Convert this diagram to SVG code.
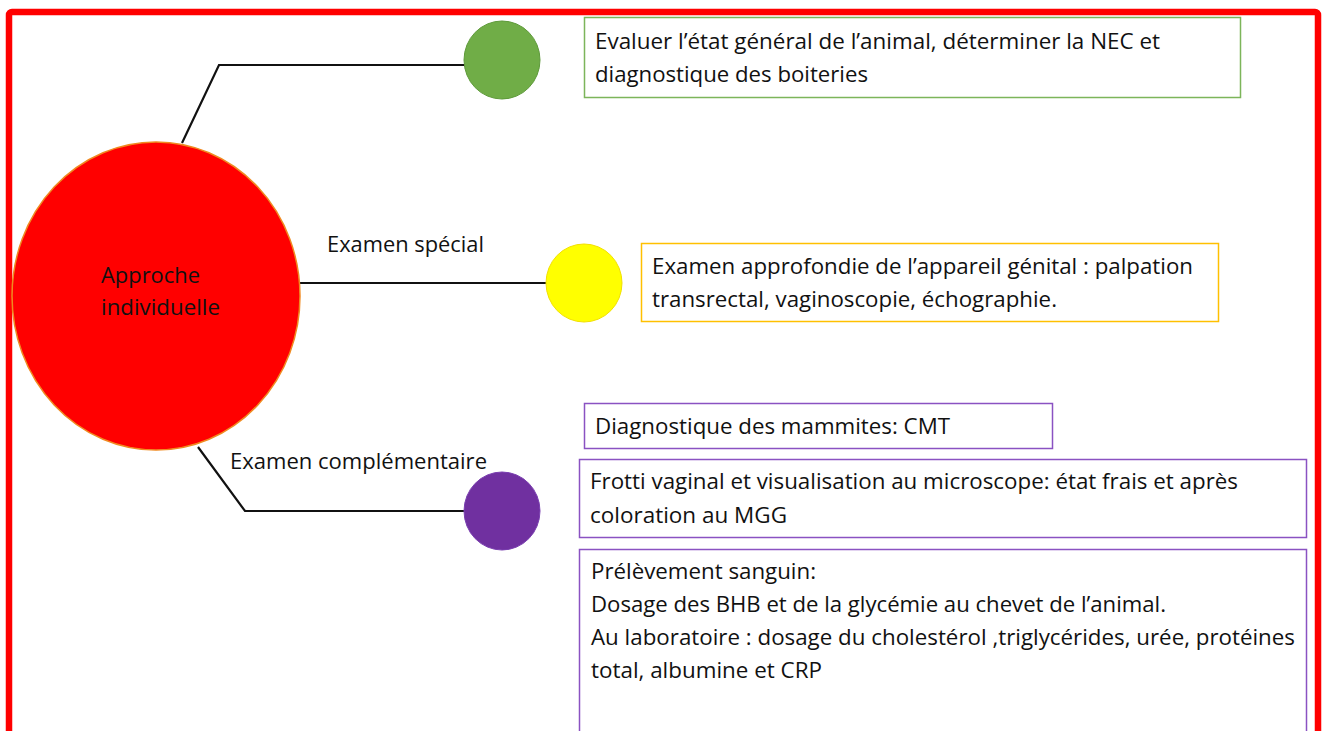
<svg xmlns="http://www.w3.org/2000/svg" width="1323" height="731" viewBox="0 0 1323 731">
<style>
text{font-family:"Open Sans","Liberation Sans",sans-serif;font-size:22px;fill:#111}
.conn{fill:none;stroke:#111;stroke-width:2.2}
.box{fill:#fff;stroke-width:1.5}
.g{stroke:#7cb55a}
.y{stroke:#ffc000}
.p{stroke:#8a52c2}
</style>
<rect width="1323" height="731" fill="#fff"/>
<rect x="9" y="12" width="1309" height="740" rx="3" fill="none" stroke="#ff0000" stroke-width="6.5"/>
<g id="connectors">
<polyline class="conn" points="182,143 219,65 466,65"/>
<line class="conn" x1="299" y1="283" x2="548" y2="283"/>
<polyline class="conn" points="198,447 245,511 466,511"/>
</g>
<g id="label-special"><text x="327" y="252" textLength="157" lengthAdjust="spacingAndGlyphs">Examen spécial</text></g>
<g id="label-complementaire"><text x="230" y="469" textLength="257" lengthAdjust="spacingAndGlyphs">Examen complémentaire</text></g>
<g id="approche">
<ellipse cx="156" cy="296" rx="144" ry="154" fill="#ff0000" stroke="#f08a20" stroke-width="1.5"/>
<text x="101" y="283" textLength="99" lengthAdjust="spacingAndGlyphs">Approche</text>
<text x="101" y="315" textLength="119" lengthAdjust="spacingAndGlyphs">individuelle</text>
</g>
<g id="green-node"><ellipse cx="502" cy="60" rx="38" ry="39" fill="#70ad47" stroke="#5e9a3a" stroke-width="1"/></g>
<g id="yellow-node"><ellipse cx="584" cy="283" rx="38" ry="39" fill="#ffff00" stroke="#f2e000" stroke-width="1"/></g>
<g id="purple-node"><ellipse cx="502" cy="511" rx="38" ry="39" fill="#7030a0" stroke="#7a3fb0" stroke-width="1"/></g>
<g id="box-general">
<rect class="box g" x="584.5" y="17.5" width="656" height="80"/>
<text x="595" y="49" textLength="565" lengthAdjust="spacingAndGlyphs">Evaluer l’état général de l’animal, déterminer la NEC et</text>
<text x="595" y="82" textLength="273" lengthAdjust="spacingAndGlyphs">diagnostique des boiteries</text>
</g>
<g id="box-special">
<rect class="box y" x="641.5" y="243.5" width="577" height="78"/>
<text x="652" y="274" textLength="541" lengthAdjust="spacingAndGlyphs">Examen approfondie de l’appareil génital : palpation</text>
<text x="652" y="307" textLength="405" lengthAdjust="spacingAndGlyphs">transrectal, vaginoscopie, échographie.</text>
</g>
<g id="box-cmt">
<rect class="box p" x="584.5" y="403.5" width="468" height="45"/>
<text x="595" y="434" textLength="355" lengthAdjust="spacingAndGlyphs">Diagnostique des mammites: CMT</text>
</g>
<g id="box-frotti">
<rect class="box p" x="579.5" y="459.5" width="727" height="78"/>
<text x="590" y="489" textLength="648" lengthAdjust="spacingAndGlyphs">Frotti vaginal et visualisation au microscope: état frais et après</text>
<text x="590" y="523" textLength="197" lengthAdjust="spacingAndGlyphs">coloration au MGG</text>
</g>
<g id="box-sang">
<rect class="box p" x="579.5" y="549.5" width="727" height="200"/>
<text x="591" y="579" textLength="225" lengthAdjust="spacingAndGlyphs">Prélèvement sanguin:</text>
<text x="591" y="612" textLength="575" lengthAdjust="spacingAndGlyphs">Dosage des BHB et de la glycémie au chevet de l’animal.</text>
<text x="591" y="645" textLength="704" lengthAdjust="spacingAndGlyphs">Au laboratoire : dosage du cholestérol ,triglycérides, urée, protéines</text>
<text x="591" y="678" textLength="231" lengthAdjust="spacingAndGlyphs">total, albumine et CRP</text>
</g>
</svg>
